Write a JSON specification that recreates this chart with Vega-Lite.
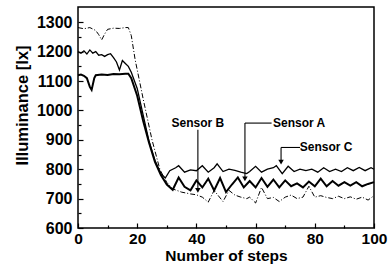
{
  "$schema": "https://vega.github.io/schema/vega-lite/v6.json",
  "width": 296,
  "height": 221,
  "autosize": {"type": "none"},
  "padding": {"left": 78, "top": 7, "right": 16, "bottom": 39},
  "background": "white",
  "config": {
    "view": {"stroke": "black", "strokeWidth": 1.5},
    "font": "Liberation Sans"
  },
  "datasets": {
    "lines": [
      {"sensor": "Sensor A", "step": 0, "value": 1120}, {"sensor": "Sensor A", "step": 1, "value": 1122}, {"sensor": "Sensor A", "step": 2, "value": 1118}, {"sensor": "Sensor A", "step": 3, "value": 1110}, {"sensor": "Sensor A", "step": 4, "value": 1080}, {"sensor": "Sensor A", "step": 4.6, "value": 1070}, {"sensor": "Sensor A", "step": 5.5, "value": 1110}, {"sensor": "Sensor A", "step": 6, "value": 1120}, {"sensor": "Sensor A", "step": 8, "value": 1122}, {"sensor": "Sensor A", "step": 10, "value": 1121}, {"sensor": "Sensor A", "step": 12, "value": 1124}, {"sensor": "Sensor A", "step": 14, "value": 1123}, {"sensor": "Sensor A", "step": 16, "value": 1125}, {"sensor": "Sensor A", "step": 17, "value": 1125}, {"sensor": "Sensor A", "step": 18, "value": 1110}, {"sensor": "Sensor A", "step": 20, "value": 1050}, {"sensor": "Sensor A", "step": 22, "value": 965}, {"sensor": "Sensor A", "step": 24, "value": 890}, {"sensor": "Sensor A", "step": 26, "value": 825}, {"sensor": "Sensor A", "step": 28, "value": 780}, {"sensor": "Sensor A", "step": 30, "value": 748}, {"sensor": "Sensor A", "step": 32, "value": 730}, {"sensor": "Sensor A", "step": 34, "value": 772}, {"sensor": "Sensor A", "step": 36, "value": 740}, {"sensor": "Sensor A", "step": 38, "value": 728}, {"sensor": "Sensor A", "step": 40, "value": 762}, {"sensor": "Sensor A", "step": 42, "value": 738}, {"sensor": "Sensor A", "step": 44, "value": 768}, {"sensor": "Sensor A", "step": 46, "value": 728}, {"sensor": "Sensor A", "step": 48, "value": 770}, {"sensor": "Sensor A", "step": 50, "value": 722}, {"sensor": "Sensor A", "step": 52, "value": 748}, {"sensor": "Sensor A", "step": 54, "value": 772}, {"sensor": "Sensor A", "step": 56, "value": 738}, {"sensor": "Sensor A", "step": 58, "value": 760}, {"sensor": "Sensor A", "step": 60, "value": 738}, {"sensor": "Sensor A", "step": 62, "value": 770}, {"sensor": "Sensor A", "step": 64, "value": 740}, {"sensor": "Sensor A", "step": 66, "value": 765}, {"sensor": "Sensor A", "step": 68, "value": 738}, {"sensor": "Sensor A", "step": 70, "value": 762}, {"sensor": "Sensor A", "step": 72, "value": 742}, {"sensor": "Sensor A", "step": 74, "value": 752}, {"sensor": "Sensor A", "step": 76, "value": 738}, {"sensor": "Sensor A", "step": 78, "value": 758}, {"sensor": "Sensor A", "step": 80, "value": 742}, {"sensor": "Sensor A", "step": 82, "value": 768}, {"sensor": "Sensor A", "step": 84, "value": 742}, {"sensor": "Sensor A", "step": 86, "value": 760}, {"sensor": "Sensor A", "step": 88, "value": 744}, {"sensor": "Sensor A", "step": 90, "value": 756}, {"sensor": "Sensor A", "step": 92, "value": 744}, {"sensor": "Sensor A", "step": 94, "value": 756}, {"sensor": "Sensor A", "step": 96, "value": 742}, {"sensor": "Sensor A", "step": 98, "value": 750}, {"sensor": "Sensor A", "step": 100, "value": 756},
      {"sensor": "Sensor C", "step": 0, "value": 1200}, {"sensor": "Sensor C", "step": 1, "value": 1195}, {"sensor": "Sensor C", "step": 2, "value": 1203}, {"sensor": "Sensor C", "step": 3, "value": 1192}, {"sensor": "Sensor C", "step": 4, "value": 1206}, {"sensor": "Sensor C", "step": 5, "value": 1195}, {"sensor": "Sensor C", "step": 6, "value": 1200}, {"sensor": "Sensor C", "step": 7, "value": 1188}, {"sensor": "Sensor C", "step": 8, "value": 1190}, {"sensor": "Sensor C", "step": 9, "value": 1184}, {"sensor": "Sensor C", "step": 10, "value": 1190}, {"sensor": "Sensor C", "step": 11, "value": 1193}, {"sensor": "Sensor C", "step": 12, "value": 1180}, {"sensor": "Sensor C", "step": 13, "value": 1165}, {"sensor": "Sensor C", "step": 14, "value": 1138}, {"sensor": "Sensor C", "step": 15, "value": 1170}, {"sensor": "Sensor C", "step": 16, "value": 1160}, {"sensor": "Sensor C", "step": 17, "value": 1150}, {"sensor": "Sensor C", "step": 18, "value": 1130}, {"sensor": "Sensor C", "step": 20, "value": 1075}, {"sensor": "Sensor C", "step": 22, "value": 985}, {"sensor": "Sensor C", "step": 24, "value": 895}, {"sensor": "Sensor C", "step": 26, "value": 830}, {"sensor": "Sensor C", "step": 28, "value": 785}, {"sensor": "Sensor C", "step": 29.5, "value": 770}, {"sensor": "Sensor C", "step": 31, "value": 795}, {"sensor": "Sensor C", "step": 33, "value": 805}, {"sensor": "Sensor C", "step": 34, "value": 812}, {"sensor": "Sensor C", "step": 36, "value": 790}, {"sensor": "Sensor C", "step": 38, "value": 798}, {"sensor": "Sensor C", "step": 40, "value": 795}, {"sensor": "Sensor C", "step": 42, "value": 812}, {"sensor": "Sensor C", "step": 44, "value": 790}, {"sensor": "Sensor C", "step": 46, "value": 805}, {"sensor": "Sensor C", "step": 47, "value": 818}, {"sensor": "Sensor C", "step": 49, "value": 792}, {"sensor": "Sensor C", "step": 51, "value": 800}, {"sensor": "Sensor C", "step": 53, "value": 796}, {"sensor": "Sensor C", "step": 55, "value": 790}, {"sensor": "Sensor C", "step": 57, "value": 785}, {"sensor": "Sensor C", "step": 58, "value": 792}, {"sensor": "Sensor C", "step": 60, "value": 810}, {"sensor": "Sensor C", "step": 62, "value": 790}, {"sensor": "Sensor C", "step": 64, "value": 800}, {"sensor": "Sensor C", "step": 66, "value": 805}, {"sensor": "Sensor C", "step": 67, "value": 812}, {"sensor": "Sensor C", "step": 69, "value": 785}, {"sensor": "Sensor C", "step": 71, "value": 810}, {"sensor": "Sensor C", "step": 73, "value": 792}, {"sensor": "Sensor C", "step": 75, "value": 800}, {"sensor": "Sensor C", "step": 77, "value": 795}, {"sensor": "Sensor C", "step": 79, "value": 800}, {"sensor": "Sensor C", "step": 81, "value": 790}, {"sensor": "Sensor C", "step": 83, "value": 805}, {"sensor": "Sensor C", "step": 85, "value": 792}, {"sensor": "Sensor C", "step": 87, "value": 800}, {"sensor": "Sensor C", "step": 89, "value": 792}, {"sensor": "Sensor C", "step": 91, "value": 805}, {"sensor": "Sensor C", "step": 93, "value": 795}, {"sensor": "Sensor C", "step": 95, "value": 806}, {"sensor": "Sensor C", "step": 97, "value": 795}, {"sensor": "Sensor C", "step": 99, "value": 805}, {"sensor": "Sensor C", "step": 100, "value": 800},
      {"sensor": "Sensor B", "step": 0, "value": 1282}, {"sensor": "Sensor B", "step": 2, "value": 1278}, {"sensor": "Sensor B", "step": 4, "value": 1282}, {"sensor": "Sensor B", "step": 6, "value": 1272}, {"sensor": "Sensor B", "step": 7, "value": 1258}, {"sensor": "Sensor B", "step": 8, "value": 1240}, {"sensor": "Sensor B", "step": 9, "value": 1260}, {"sensor": "Sensor B", "step": 10, "value": 1276}, {"sensor": "Sensor B", "step": 12, "value": 1280}, {"sensor": "Sensor B", "step": 14, "value": 1279}, {"sensor": "Sensor B", "step": 16, "value": 1282}, {"sensor": "Sensor B", "step": 17, "value": 1282}, {"sensor": "Sensor B", "step": 18, "value": 1255}, {"sensor": "Sensor B", "step": 19.3, "value": 1173}, {"sensor": "Sensor B", "step": 22, "value": 1040}, {"sensor": "Sensor B", "step": 25, "value": 900}, {"sensor": "Sensor B", "step": 27.7, "value": 798}, {"sensor": "Sensor B", "step": 30, "value": 755}, {"sensor": "Sensor B", "step": 32, "value": 733}, {"sensor": "Sensor B", "step": 35, "value": 722}, {"sensor": "Sensor B", "step": 38, "value": 716}, {"sensor": "Sensor B", "step": 40, "value": 713}, {"sensor": "Sensor B", "step": 42, "value": 705}, {"sensor": "Sensor B", "step": 44, "value": 688}, {"sensor": "Sensor B", "step": 46, "value": 728}, {"sensor": "Sensor B", "step": 47, "value": 715}, {"sensor": "Sensor B", "step": 49, "value": 690}, {"sensor": "Sensor B", "step": 51, "value": 728}, {"sensor": "Sensor B", "step": 53, "value": 712}, {"sensor": "Sensor B", "step": 55, "value": 705}, {"sensor": "Sensor B", "step": 57, "value": 700}, {"sensor": "Sensor B", "step": 58, "value": 705}, {"sensor": "Sensor B", "step": 60, "value": 685}, {"sensor": "Sensor B", "step": 62, "value": 738}, {"sensor": "Sensor B", "step": 64, "value": 700}, {"sensor": "Sensor B", "step": 66, "value": 704}, {"sensor": "Sensor B", "step": 68, "value": 690}, {"sensor": "Sensor B", "step": 70, "value": 705}, {"sensor": "Sensor B", "step": 72, "value": 712}, {"sensor": "Sensor B", "step": 74, "value": 700}, {"sensor": "Sensor B", "step": 76, "value": 705}, {"sensor": "Sensor B", "step": 78, "value": 742}, {"sensor": "Sensor B", "step": 80, "value": 705}, {"sensor": "Sensor B", "step": 82, "value": 710}, {"sensor": "Sensor B", "step": 84, "value": 704}, {"sensor": "Sensor B", "step": 86, "value": 700}, {"sensor": "Sensor B", "step": 88, "value": 708}, {"sensor": "Sensor B", "step": 90, "value": 700}, {"sensor": "Sensor B", "step": 92, "value": 706}, {"sensor": "Sensor B", "step": 94, "value": 698}, {"sensor": "Sensor B", "step": 96, "value": 705}, {"sensor": "Sensor B", "step": 98, "value": 695}, {"sensor": "Sensor B", "step": 100, "value": 710}
    ],
    "labels": [
      {"label": "Sensor B", "step": 40.5, "value": 957},
      {"label": "Sensor A", "step": 74.7, "value": 957},
      {"label": "Sensor C", "step": 83.8, "value": 877}
    ],
    "leaders": [
      {"step": 40.5, "step2": 40.5, "value": 934, "value2": 728},
      {"step": 56.4, "step2": 65.4, "value": 957, "value2": 957},
      {"step": 56.4, "step2": 56.4, "value": 957, "value2": 767},
      {"step": 68.6, "step2": 75, "value": 874, "value2": 874},
      {"step": 68.6, "step2": 68.6, "value": 874, "value2": 824}
    ],
    "heads": [
      {"step": 40.5, "value": 728},
      {"step": 56.4, "value": 767},
      {"step": 68.6, "value": 824}
    ]
  },
  "encoding": {
    "x": {
      "field": "step", "type": "quantitative",
      "scale": {"domain": [0, 100], "nice": false},
      "axis": {
        "title": "Number of steps",
        "values": [0, 10, 20, 30, 40, 50, 60, 70, 80, 90, 100],
        "labelExpr": "datum.value % 20 === 0 ? datum.label : ''",
        "grid": false, "domain": false,
        "tickColor": "black", "tickWidth": 1.2,
        "tickSize": {"condition": {"test": "datum.value % 20 === 0", "value": -5}, "value": -3},
        "labelFont": "Liberation Sans", "labelFontWeight": "bold", "labelFontSize": 15.5, "labelColor": "black",
        "labelPadding": 8, "labelFlush": false, "labelOverlap": false,
        "titleFont": "Liberation Sans", "titleFontWeight": "bold", "titleFontSize": 15.5, "titleColor": "black",
        "titleX": 148, "titleY": 27, "titleBaseline": "middle"
      }
    },
    "y": {
      "field": "value", "type": "quantitative",
      "scale": {"domain": [600, 1352], "nice": false, "zero": false},
      "axis": {
        "title": "Illuminance [lx]",
        "values": [600, 650, 700, 750, 800, 850, 900, 950, 1000, 1050, 1100, 1150, 1200, 1250, 1300],
        "labelExpr": "datum.value % 100 === 0 ? datum.label : ''",
        "format": "d",
        "grid": false, "domain": false,
        "tickColor": "black", "tickWidth": 1.2,
        "tickSize": {"condition": {"test": "datum.value % 100 === 0", "value": -5}, "value": -3},
        "labelFont": "Liberation Sans", "labelFontWeight": "bold", "labelFontSize": 16, "labelColor": "black",
        "labelPadding": 11, "labelOverlap": false, "labelFlush": false,
        "titleFont": "Liberation Sans", "titleFontWeight": "bold", "titleFontSize": 16.5, "titleColor": "black",
        "titleX": -56, "titleY": 98, "titleBaseline": "middle", "titleAngle": -90
      }
    }
  },
  "layer": [
    {
      "data": {"name": "lines"},
      "transform": [{"filter": "datum.sensor === 'Sensor B'"}],
      "mark": {"type": "line", "color": "black", "strokeWidth": 1, "strokeDash": [5, 2, 1, 2]}
    },
    {
      "data": {"name": "lines"},
      "transform": [{"filter": "datum.sensor === 'Sensor C'"}],
      "mark": {"type": "line", "color": "black", "strokeWidth": 1.3}
    },
    {
      "data": {"name": "lines"},
      "transform": [{"filter": "datum.sensor === 'Sensor A'"}],
      "mark": {"type": "line", "color": "black", "strokeWidth": 2}
    },
    {
      "data": {"name": "leaders"},
      "mark": {"type": "rule", "color": "black", "strokeWidth": 1.1},
      "encoding": {
        "x2": {"field": "step2"},
        "y2": {"field": "value2"}
      }
    },
    {
      "data": {"name": "heads"},
      "mark": {"type": "point", "shape": "triangle-down", "filled": true, "color": "black", "size": 30, "opacity": 1}
    },
    {
      "data": {"name": "labels"},
      "mark": {"type": "text", "font": "Liberation Sans", "fontWeight": "bold", "fontSize": 12, "color": "black", "baseline": "middle"},
      "encoding": {"text": {"field": "label"}}
    }
  ]
}
